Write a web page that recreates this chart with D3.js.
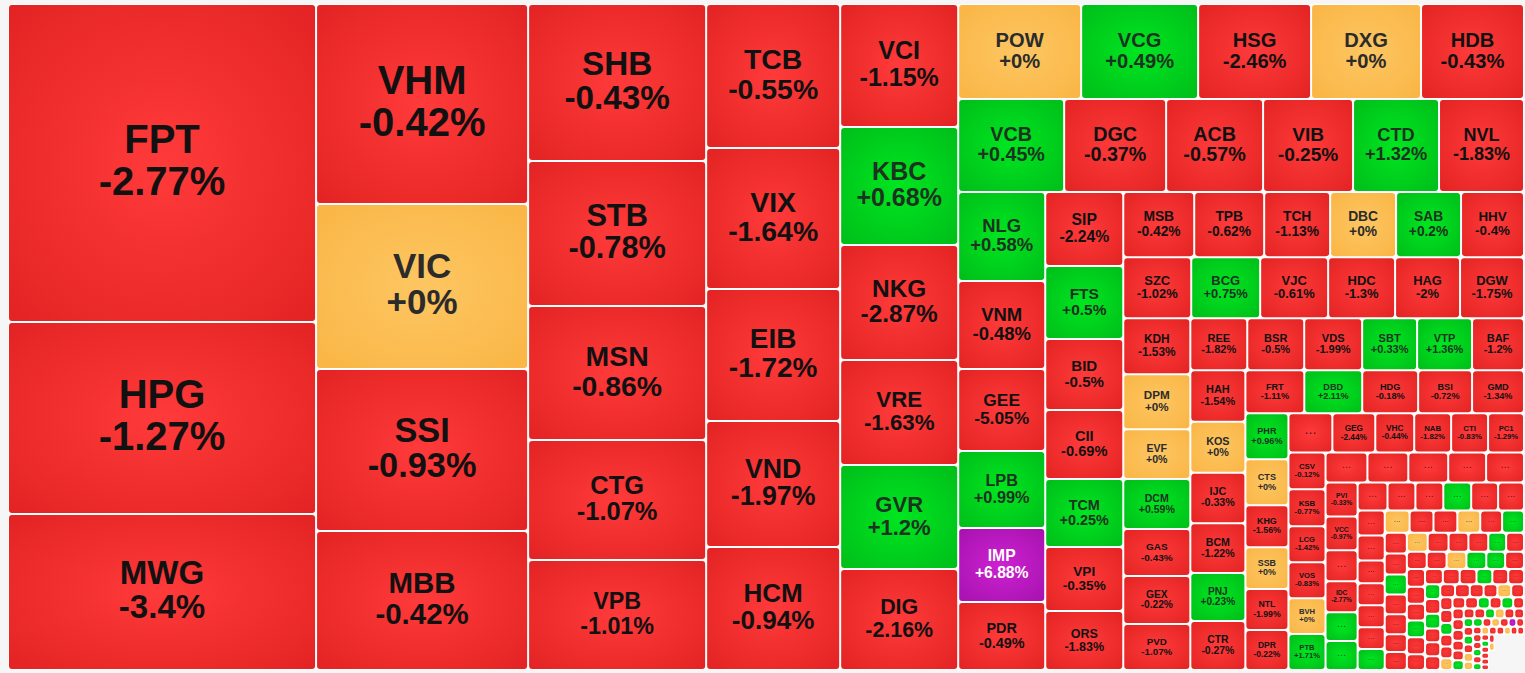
<!DOCTYPE html>
<html><head><meta charset="utf-8">
<script src="https://cdn.jsdelivr.net/npm/d3@7/dist/d3.min.js"></script>
<style>html,body{margin:0;padding:0;background:#f6f6f6;overflow:hidden}svg{display:block}</style>
</head><body><svg id="c" width="1525" height="673"></svg>
<script>
const names = [
 "FPT","HPG","MWG",
 "VHM","VIC","SSI","MBB",
 "SHB","STB","MSN","CTG","VPB",
 "TCB","VIX","EIB","VND","HCM",
 "VCI","KBC","NKG","VRE","GVR","DIG",
 "POW","VCG","HSG","DXG","HDB",
 "VCB","DGC","ACB","VIB","CTD","NVL",
 "NLG","VNM","GEE","LPB","IMP","PDR",
 "SIP","FTS","BID","CII","TCM","VPI","ORS",
 "MSB","TPB","TCH","DBC","SAB","HHV",
 "SZC","BCG","VJC","HDC","HAG","DGW",
 "KDH","DPM","EVF","DCM","GAS","GEX","PVD",
 "REE","BSR","VDS","SBT","VTP","BAF",
 "HAH","KOS","IJC","BCM","PNJ","CTR",
 "FRT","DBD","HDG","BSI","GMD",
 "PHR","CTS","KHG","SSB","NTL","DPR",
 "...","GEG","VHC","NAB","CTI","PC1",
 "CSV","KSB","LCG","VOS","BVH","PTB",
 "...","...","...","...","...",
 "PVI","VCC","...","IDC","...","..."
];
const changes = [
 -2.77,-1.27,-3.4,
 -0.42,0,-0.93,-0.42,
 -0.43,-0.78,-0.86,-1.07,-1.01,
 -0.55,-1.64,-1.72,-1.97,-0.94,
 -1.15,0.68,-2.87,-1.63,1.2,-2.16,
 0,0.49,-2.46,0,-0.43,
 0.45,-0.37,-0.57,-0.25,1.32,-1.83,
 0.58,-0.48,-5.05,0.99,6.88,-0.49,
 -2.24,0.5,-0.5,-0.69,0.25,-0.35,-1.83,
 -0.42,-0.62,-1.13,0,0.2,-0.4,
 -1.02,0.75,-0.61,-1.3,-2,-1.75,
 -1.53,0,0,0.59,-0.43,-0.22,-1.07,
 -1.82,-0.5,-1.99,0.33,1.36,-1.2,
 -1.54,0,-0.33,-1.22,0.23,-0.27,
 -1.11,2.11,-0.18,-0.72,-1.34,
 0.96,0,-1.56,0,-1.99,-0.22,
 -1,-2.44,-0.44,-1.82,-0.83,-1.29,
 -0.12,-0.77,-1.42,-0.83,0,1.71,
 -1,-1,-1,-1,-1,
 -0.33,-0.97,-1,-2.77,1,1
];
// unnamed small tickers, read only by colour (estimated change sign)
const smallChanges = [
 -1,-1,-1,1,-1,-1,
 -1,-1,-1,-1,-1,-1,1,
 0,-1,-1,0,-1,1,
 -1,-1,1,-1,-1,-1,-1,
 0,-1,-1,-1,1,-1,
 -1,-1,0,1,1,-1,
 -1,-1,-1,1,-1,-1,
 -1,-1,-1,1,-1,-1,
 1,-1,1,-1,-1,-1,
 -1,-1,-1,-1,0,-1,
 -1,-1,1,-1,-1,0,
 -1,-1,1,-1,1,-1,
 -1,-1,-1,-1,-1,1,
 -1,-1,1,0,-1,-1,
 1,-1,1,-1,0,0,
 1,-1,0,-1,7,-1,
 -1,-1,-1,1,-1,1,
 0,-1,-1,0,-1,-1,
 -1,1,-1,-1,-1,-1,
 -1,0,1,-1,0,-1,
 1,-1
];
const weights = [
 97944,59136,48048,
 42400,34980,34344,29468,
 27946,25810,23852,21360,19580,
 19296,18894,17688,16884,16482,
 14514,13924,13570,12390,12272,11918,
 11685,11115,10735,10450,9785,
 9858,9486,9021,8370,7998,7905,
 7743,7656,7134,6699,6438,5916,
 5772,5694,5538,5382,5304,4992,4602,
 4615,4550,4290,4290,4225,4095,
 4148,4209,4148,4087,3965,3904,
 3752,3685,3350,3350,3149,3216,3082,
 2964,2964,3016,2860,2860,2704,
 2832,2805,2778,2750,2640,2695,
 2537,2494,2408,2322,2236,
 1978,1978,1806,1806,1763,1720,
 1716,1677,1521,1443,1443,1404,
 1369,1369,1332,1332,1332,1332,
 1260,1230,1200,1140,1140,
 1088,1088,992,992,928,928,
 840,784,784,784,756,728,
 675,675,621,594,594,594,567,
 550,528,528,506,484,484,
 462,462,440,440,440,396,396,
 399,399,380,380,342,342,
 340,340,340,340,323,323,
 324,306,306,306,306,288,
 270,255,255,240,240,240,
 225,225,225,210,210,210,
 195,195,182,182,182,169,
 156,156,144,144,144,144,
 143,143,132,132,132,121,
 121,121,121,110,110,110,
 104.5,104.5,95,95,95,95,
 81,81,81,81,81,76.5,
 80,72,72,72,64,64,
 64,64,60,60,60,56,
 60,60,60,52.5,52.5,52.5,
 45.5,45.5,45.5,45.5,42,42,
 45.5,45.5,39,39,39,39,
 25,25
];
const blankWeights = [107.5,1039.5];
const stripSizes = [3,4,5,5,6,5,6,6,7,6,6,7,6,6,5,6,6,6,5,6,6,7,6,7,6,6,6,6,6,6,6,6,6,6,6,6,6,6,6];
const stripAxes = "CCCCCRRCCRRCRCRCRCRCRCRCRRCRCRCRCRCRCRC";

const W = 1516, H = 666, OX = 8, OY = 4;
const allChanges = changes.concat(smallChanges);
const allNames = names.concat(smallChanges.map(() => "..."));

let i = 0;
const strips = stripSizes.map((n, s) => {
  const children = [];
  for (let k = 0; k < n; k++, i++) children.push({name: allNames[i], change: allChanges[i], value: weights[i]});
  return {axis: stripAxes[s], children};
});
strips.push({axis:"C", children:[
  {name:allNames[i], change:allChanges[i], value:weights[i]},
  {name:allNames[i+1], change:allChanges[i+1], value:weights[i+1]},
  {name:"", change:null, value:blankWeights[0]}
]});
strips.push({axis:"C", children:[{name:"", change:null, value:blankWeights[1]}]});

function tile(node, x0, y0, x1, y1) {
  if (node.depth === 0) {
    let rest = node.value;
    node.children.forEach(st => {
      const share = st.value / rest;
      st.x0 = x0; st.y0 = y0; st.x1 = x1; st.y1 = y1;
      if (st.data.axis === "C") { x0 += (x1 - x0) * share; st.x1 = x0; }
      else { y0 += (y1 - y0) * share; st.y1 = y0; }
      rest -= st.value;
    });
  } else if (node.data.axis === "C") d3.treemapSlice(node, x0, y0, x1, y1);
  else d3.treemapDice(node, x0, y0, x1, y1);
}

const root = d3.treemap().size([W, H]).round(false).tile(tile)(
  d3.hierarchy({children: strips}).sum(d => d.value || 0));

const colorKey = d3.scaleThreshold().domain([0, 0.001, 6.5]).range(["red","orange","green","purple"]);
const stops = {
  red:    ["#ff3a3a","#e42424"],
  orange: ["#fdc662","#fab646"],
  green:  ["#00e620","#00bf1a"],
  purple: ["#cc22d0","#a812b0"]
};
const textFill = {red:"#111", orange:"#2b2b2b", green:"#1d3320", purple:"#fff"};

const svg = d3.select("#c");
const defs = svg.append("defs");
Object.entries(stops).forEach(([k, c]) => {
  const g = defs.append("radialGradient").attr("id", "g-" + k).attr("cx", .5).attr("cy", .5).attr("r", .68);
  g.append("stop").attr("offset", 0).attr("stop-color", c[0]);
  g.append("stop").attr("offset", 1).attr("stop-color", c[1]);
});

const leaves = root.leaves().filter(d => d.data.change !== null);
const plot = svg.append("g").attr("transform", `translate(${OX},${OY})`);
plot.append("g").selectAll("rect").data(leaves).join("rect")
  .attr("x", d => d.x0).attr("y", d => d.y0)
  .attr("width", d => d.x1 - d.x0).attr("height", d => d.y1 - d.y0).attr("fill", "#fff");

const cell = plot.append("g").selectAll("g").data(leaves).join("g");
cell.append("rect")
  .attr("x", d => d.x0 + 1).attr("y", d => d.y0 + 1)
  .attr("width", d => Math.max(0, d.x1 - d.x0 - 2)).attr("height", d => Math.max(0, d.y1 - d.y0 - 2))
  .attr("rx", d => Math.min(3, (d.x1 - d.x0 - 2) / 3)).attr("ry", d => Math.min(3, (d.y1 - d.y0 - 2) / 3))
  .attr("fill", d => `url(#g-${colorKey(d.data.change)})`);

const side = d => Math.min(d.x1 - d.x0, d.y1 - d.y0);
const isDots = d => d.data.name === "...";
const fs = d => isDots(d) ? 0.37 * side(d) : Math.min(40, 0.212 * side(d));
const pctText = v => (v >= 0 ? "+" : "") + v + "%";
const text = cell.filter(d => side(d) >= 11).append("g")
  .attr("font-family", "'Liberation Sans', Arial, sans-serif")
  .attr("font-weight", d => isDots(d) ? "normal" : "bold")
  .attr("fill-opacity", d => isDots(d) ? 0.75 : 1)
  .attr("text-anchor", "middle")
  .attr("fill", d => textFill[colorKey(d.data.change)])
  .attr("font-size", d => fs(d));
text.append("text")
  .attr("x", d => (d.x0 + d.x1) / 2)
  .attr("y", d => (d.y0 + d.y1) / 2 + (isDots(d) ? 0.07 * fs(d) : -0.24 * fs(d)))
  .text(d => d.data.name);
text.filter(d => !isDots(d)).append("text")
  .attr("x", d => (d.x0 + d.x1) / 2)
  .attr("y", d => (d.y0 + d.y1) / 2 + 0.80 * fs(d))
  .text(d => pctText(d.data.change));
</script></body></html>
